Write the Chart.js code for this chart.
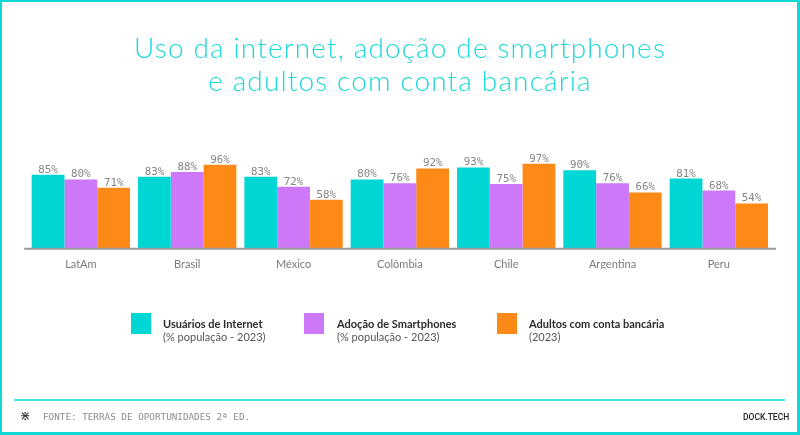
<!DOCTYPE html>
<html>
<head>
<meta charset="utf-8">
<script src="https://cdn.jsdelivr.net/npm/chart.js@4/dist/chart.umd.min.js"></script>
<style>
  html, body { margin: 0; padding: 0; background: #fff; }
  #frame { position: absolute; left: 0; top: 0; width: 800px; height: 435px; box-sizing: border-box;
           border-style: solid; border-color: #12d8d5; border-width: 2px 3px 3px 2px; overflow: hidden; background:#fff; }
  #wrap { position: absolute; left: 0; top: 0; width: 800px; height: 435px; }
  canvas { position: absolute; left: 0; top: 0; }
  .title { position: absolute; left: 0; width: 800px; text-align: center; font-family: Lato, sans-serif;
           font-weight: 300; font-size: 28px; line-height: 34px; color: #1cd9d7; white-space: nowrap; letter-spacing: 1.15px; }
  .sw { position: absolute; width: 20px; height: 21px; }
  .lg { position: absolute; font-family: Lato, sans-serif; font-size: 11px; line-height: 13px; white-space: nowrap; }
  .lg b { font-weight: 700; color: #2b2b2b; display: block; }
  .lg span { color: #555; display: block; }
  #rule { position: absolute; left: 14px; top: 399px; width: 771px; height: 2px; background: #45e4e4; }
  #src { position: absolute; left: 43px; top: 411px; font-family: "DejaVu Sans Mono", monospace; font-size: 9.3px; color: #8c8c8c; white-space: nowrap; }
  #ico { position: absolute; left: 20px; top: 408px; font-family: "DejaVu Sans", sans-serif; font-size: 13px; color: #333; }
  #brand { position: absolute; left: 743px; top: 412px; font-family: Roboto, sans-serif; font-weight: 500; font-size: 8.5px; color: #222; white-space: nowrap; }
</style>
</head>
<body>
<div id="frame"></div>
<div id="wrap">
  <canvas id="c" width="800" height="435"></canvas>
  <div class="title" style="top:30px">Uso da internet, adoção de smartphones</div>
  <div class="title" style="top:63px">e adultos com conta bancária</div>

  <div class="sw" style="left:131px;top:313px;background:#00d7d5"></div>
  <div class="lg" style="left:163px;top:317px"><b>Usuários de Internet</b><span>(% população - 2023)</span></div>
  <div class="sw" style="left:304px;top:313px;background:#cd78f9"></div>
  <div class="lg" style="left:337px;top:317px"><b>Adoção de Smartphones</b><span>(% população - 2023)</span></div>
  <div class="sw" style="left:497px;top:313px;background:#fd8a16"></div>
  <div class="lg" style="left:529px;top:317px"><b>Adultos com conta bancária</b><span>(2023)</span></div>

  <div id="rule"></div>
  <div id="ico">⋇</div>
  <div id="src">FONTE: TERRAS DE OPORTUNIDADES 2ª ED.</div>
  <div id="brand">DOCK.TECH</div>
</div>
<script>
const categories = ["LatAm", "Brasil", "México", "Colômbia", "Chile", "Argentina", "Peru"];
const internetUsers = [85, 83, 83, 80, 93, 90, 81];
const smartphoneAdoption = [80, 88, 72, 76, 75, 76, 68];
const bankAccounts = [71, 96, 58, 92, 97, 66, 54];
const seriesNames = ["Usuários de Internet", "Adoção de Smartphones", "Adultos com conta bancária"];

const valueLabels = {
  id: 'valueLabels',
  afterDatasetsDraw(chart) {
    const ctx = chart.ctx;
    ctx.save();
    ctx.font = '10.8px "DejaVu Sans Mono", monospace';
    ctx.fillStyle = '#858585';
    ctx.textAlign = 'center';
    ctx.textBaseline = 'alphabetic';
    chart.data.datasets.forEach((ds, i) => {
      chart.getDatasetMeta(i).data.forEach((el, j) => {
        ctx.fillText(ds.data[j] + '%', el.x, el.y - 2);
      });
    });
    const a = chart.chartArea;
    ctx.strokeStyle = '#9a9a9a';
    ctx.lineWidth = 2;
    ctx.beginPath();
    ctx.moveTo(a.left - 3.5, a.bottom);
    ctx.lineTo(a.right + 4, a.bottom);
    ctx.stroke();
    ctx.restore();
  }
};

new Chart(document.getElementById('c'), {
  type: 'bar',
  data: {
    labels: categories,
    datasets: [
      { label: seriesNames[0], data: internetUsers, backgroundColor: '#00d7d5' },
      { label: seriesNames[1], data: smartphoneAdoption, backgroundColor: '#cd78f9' },
      { label: seriesNames[2], data: bankAccounts, backgroundColor: '#fd8a16' }
    ]
  },
  options: {
    responsive: false,
    animation: false,
    events: [],
    layout: { padding: { left: 27.7, right: 28, top: 161, bottom: 166.3 } },
    datasets: { bar: { categoryPercentage: 0.925, barPercentage: 1.0, borderWidth: 0 } },
    plugins: { legend: { display: false }, tooltip: { enabled: false }, title: { display: false } },
    scales: {
      x: {
        grid: { display: false, drawTicks: false },
        border: { display: false },
        ticks: { color: '#7a7a7a', font: { family: 'Lato, sans-serif', size: 11 }, padding: 9, maxRotation: 0 },
        afterFit(scale) { scale.height = 20; }
      },
      y: { display: false, min: 5, max: 100 }
    }
  },
  plugins: [valueLabels]
});
</script>
</body>
</html>
